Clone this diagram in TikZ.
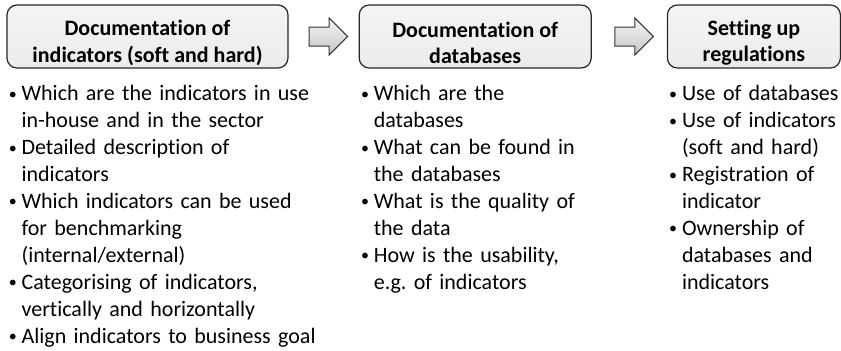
\documentclass[tikz,border=0pt]{standalone}
\usepackage{fontspec}
\setmainfont{Carlito}[Ligatures=NoCommon]
\usepackage{xcolor}
\usepackage{tikz}
\usetikzlibrary{positioning,shapes.arrows,calc}

% one bullet line with hanging indent
\newcommand{\bitem}{\par\noindent\hangindent=7.4pt\hangafter=1%
  \makebox[7.4pt][l]{\hspace{1pt}\raisebox{0.8pt}{\fontsize{8}{8}\selectfont\textbullet}}\strut}
% taller first line, to push the title text down a little
\newcommand{\topstrut}{\rule{0pt}{14pt}}

\begin{document}
\begin{tikzpicture}[x=0.5pt,y=-0.5pt,font=\fontsize{11}{13.45}\selectfont]
  % `heading' is used for the three grey title boxes.
  % `flow' is used for the block arrows between them.
  % `bullets' is used for the lists under each box.
  \tikzstyle{heading} = [draw=black!85,line width=0.6pt,rounded corners=5pt,
    top color=gray!9,bottom color=gray!15,font=\fontsize{11}{13.3}\selectfont\bfseries,
    align=center,minimum height=31.5pt,inner sep=0pt]
  \tikzstyle{flow} = [single arrow,draw=black!80,line width=0.5pt,top color=gray!8,
    bottom color=gray!45,minimum width=0pt,minimum height=0pt,
    single arrow head extend=4.5pt,inner xsep=7pt,inner ysep=4.5pt,
    shape border rotate=0]
  \tikzstyle{bullets} = [inner sep=0pt]
  %
  \useasboundingbox (0,0) rectangle (841,350);
  % Title boxes.
  \node[heading,minimum width=140.5pt] (doc1) at (147.5,36.5)
    {\topstrut Documentation of\\indicators (soft and hard)};
  \node[heading,minimum width=116pt,right=35pt of doc1] (doc2)
    {\topstrut Documentation of\\databases};
  \node[heading,minimum width=86.5pt,right=37.5pt of doc2] (regul)
    {\topstrut Setting up\\regulations};
  % Arrows between the boxes.
  \node[flow] (arr1) at ($(doc1.east)!0.5!(doc2.west)$) {};
  \node[flow] (arr2) at ($(doc2.east)!0.5!(regul.west)$) {};
  % Lists.
  \node[bullets,text width=175pt,below right=2.5pt and 0pt of doc1.south west] (list1) {%
    \raggedright
    \bitem Which are the indicators in use\newline in-house and in the sector
    \bitem Detailed description of\newline indicators
    \bitem Which indicators can be used\newline for benchmarking\newline (internal/external)
    \bitem Categorising of indicators,\newline vertically and horizontally
    \bitem Align indicators to business goal\par};
  \node[bullets,text width=115pt,below right=2.5pt and 0pt of doc2.south west] (list2) {%
    \raggedright
    \bitem Which are the\newline databases
    \bitem What can be found in\newline the databases
    \bitem What is the quality of\newline the data
    \bitem How is the usability,\newline e.g.\ of indicators\par};
  \node[bullets,text width=95pt,below right=2.5pt and 0pt of regul.south west] (list3) {%
    \raggedright
    \bitem Use of databases
    \bitem Use of indicators\newline (soft and hard)
    \bitem Registration of\newline indicator
    \bitem Ownership of\newline databases and\newline indicators\par};
\end{tikzpicture}
\end{document}
